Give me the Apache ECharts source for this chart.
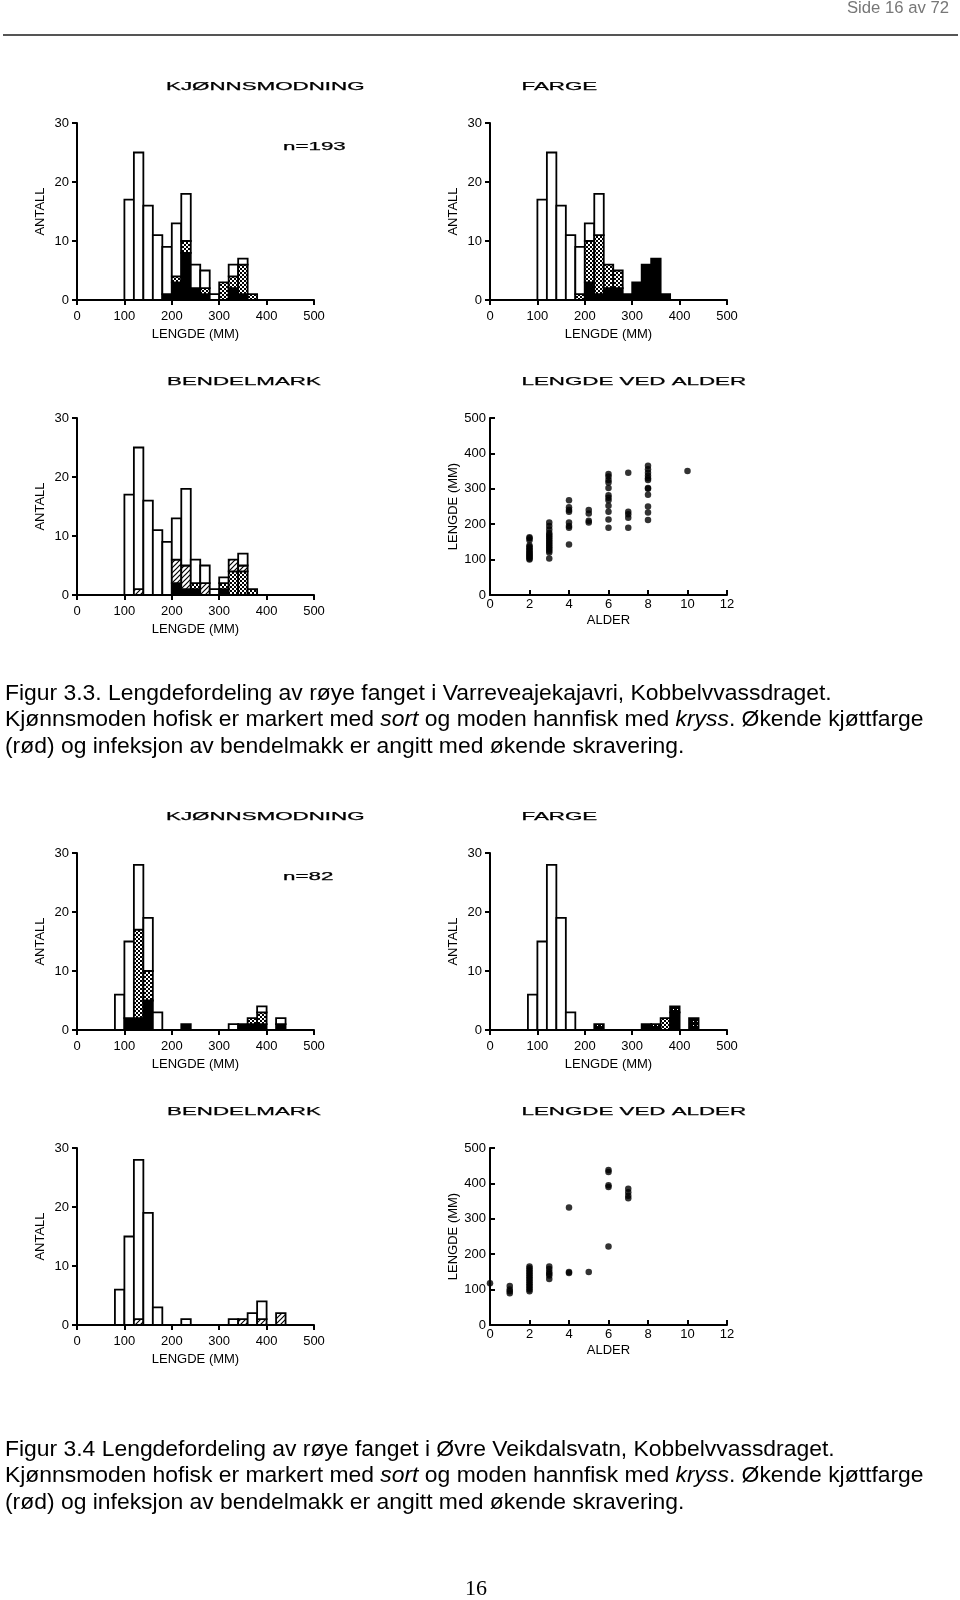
<!DOCTYPE html>
<html>
<head>
<meta charset="utf-8">
<script src="https://cdn.jsdelivr.net/npm/echarts@6/dist/echarts.min.js"></script>
<style>
html,body{margin:0;padding:0;background:#fff;}
#c{width:960px;height:1600px;}
</style>
</head>
<body>
<div id="c"></div>
<script>
// ---------- DATA ----------
// Figure 3.3 (Varreveajekajavri), 20 mm length bins, start values
const binsA = [100,120,140,160,180,200,220,240,260,280,300,320,340,360];
// KJØNNSMODNING: black = hofisk moden (sort), cross = moden hannfisk (kryss), white = umoden
const kjonnA_black = [0,0,0,0,1,3,8,2,1,0,0,2,1,0];
const kjonnA_cross = [0,0,0,0,0,1,2,0,1,0,3,2,5,1];
const kjonnA_white = [17,25,16,11,8,9,8,4,3,1,0,2,1,0];
// FARGE
const fargeA_black = [0,0,0,0,0,3,1,2,2,1,3,6,7,1];
const fargeA_cross = [0,0,0,0,1,7,10,4,3,0,0,0,0,0];
const fargeA_white = [17,25,16,11,8,3,7,0,0,0,0,0,0,0];
// BENDELMARK
const bendA_black = [0,0,0,0,0,2,1,1,0,0,1,0,0,0];
const bendA_cross = [0,0,0,0,0,0,0,1,0,0,1,4,4,1];
const bendA_hatch = [0,1,0,0,0,4,4,0,2,0,0,2,1,0];
const bendA_white = [17,24,16,11,9,7,13,4,3,1,1,0,2,0];
// LENGDE VED ALDER [alder, lengde mm]
const alderA = [
 [2,100],[2,103],[2,107],[2,110],[2,113],[2,117],[2,120],[2,124],[2,128],[2,132],[2,136],[2,140],[2,155],[2,160],[2,163],
 [3,103],[3,120],[3,125],[3,130],[3,135],[3,140],[3,145],[3,150],[3,155],[3,160],[3,165],[3,170],[3,175],[3,185],[3,195],[3,205],
 [4,143],[4,190],[4,195],[4,205],[4,235],[4,240],[4,248],[4,268],
 [5,205],[5,210],[5,230],[5,240],
 [6,190],[6,213],[6,235],[6,252],[6,268],[6,275],[6,282],[6,302],[6,318],[6,325],[6,335],[6,342],
 [7,190],[7,218],[7,228],[7,235],[7,345],
 [8,212],[8,233],[8,250],[8,283],[8,300],[8,302],[8,325],[8,330],[8,337],[8,345],[8,355],[8,365],
 [10,350]
];
// Figure 3.4 (Øvre Veikdalsvatn)
const binsB = [80,100,120,140,160,180,200,220,240,260,280,300,320,340,360,380,400,420];
const kjonnB_black = [0,2,2,5,0,0,0,1,0,0,0,0,0,1,1,1,0,1];
const kjonnB_cross = [0,0,15,5,0,0,0,0,0,0,0,0,0,0,1,2,0,0];
const kjonnB_white = [6,13,11,9,3,0,0,0,0,0,0,0,1,0,0,1,0,1];
const fargeB_black = [0,0,0,0,0,0,0,0,0,0,0,0,1,0,0,3,0,0];
const fargeB_dark  = [0,0,0,0,0,0,0,1,0,0,0,0,0,1,0,1,0,2];
const fargeB_cross = [0,0,0,0,0,0,0,0,0,0,0,0,0,0,2,0,0,0];
const fargeB_white = [6,15,28,19,3,0,0,0,0,0,0,0,0,0,0,0,0,0];
const bendB_hatch = [0,0,1,0,0,0,0,0,0,0,0,0,0,1,0,1,0,2];
const bendB_white = [6,15,27,19,3,0,0,1,0,0,0,0,1,0,2,3,0,0];
const alderB = [
 [0,118],
 [1,90],[1,95],[1,100],[1,110],
 [2,95],[2,100],[2,105],[2,110],[2,115],[2,120],[2,125],[2,130],[2,135],[2,140],[2,145],[2,150],[2,155],[2,160],[2,165],
 [3,130],[3,140],[3,145],[3,150],[3,158],[3,165],
 [4,147],[4,150],[4,332],
 [5,150],
 [6,222],[6,390],[6,395],[6,432],[6,438],
 [7,358],[7,365],[7,375],[7,385]
];

// ---------- PATTERNS ----------
function mk(w,h,draw){const c=document.createElement('canvas');c.width=w;c.height=h;const g=c.getContext('2d');draw(g);return {image:c,repeat:'repeat'};}
const FILL = {
  white:'#ffffff',
  black:'#000000',
  cross: mk(4,4,g=>{g.fillStyle='#fff';g.fillRect(0,0,4,4);g.fillStyle='#000';g.fillRect(0,0,2,2);g.fillRect(2,2,2,2);}),
  dark: mk(4,4,g=>{g.fillStyle='#000';g.fillRect(0,0,4,4);g.fillStyle='#fff';g.fillRect(1,1,1,1);}),
  hatch: mk(5,5,g=>{g.fillStyle='#fff';g.fillRect(0,0,5,5);g.strokeStyle='#000';g.lineWidth=1.2;g.beginPath();g.moveTo(-1,6);g.lineTo(6,-1);g.moveTo(-1,1);g.lineTo(1,-1);g.moveTo(4,6);g.lineTo(6,4);g.stroke();})
};
const PAT = ['black','cross','hatch','dark','white'];

function stackData(bins, layers){ // layers: [[name, arr], ...] bottom -> top
  const out=[];
  bins.forEach((b,i)=>{
    let base=0;
    layers.forEach(([name,arr])=>{
      const v=arr[i];
      if(v>0){out.push([b,b+20,base,base+v,PAT.indexOf(name)]);base+=v;}
    });
  });
  return out;
}
function renderBar(params, api){
  const a=api.coord([api.value(0),api.value(3)]);
  const b=api.coord([api.value(1),api.value(2)]);
  return {type:'rect',shape:{x:a[0],y:a[1],width:b[0]-a[0],height:b[1]-a[1]},
    style:{fill:FILL[PAT[api.value(4)]],stroke:'#000',lineWidth:1.8}};
}

// ---------- LAYOUT ----------
const FONT='"Liberation Sans", Arial, sans-serif';
const grids=[
 {left:77,top:123,width:237,height:177},
 {left:490,top:123,width:237,height:177},
 {left:77,top:418,width:237,height:177},
 {left:490,top:418,width:237,height:177},
 {left:77,top:853,width:237,height:177},
 {left:490,top:853,width:237,height:177},
 {left:77,top:1148,width:237,height:177},
 {left:490,top:1148,width:237,height:177}
];
const axLine={show:true,onZero:false,lineStyle:{color:'#000',width:2}};
const lbl=(m)=>({show:true,margin:m,color:'#000',fontSize:13,fontFamily:FONT,showMinLabel:true,showMaxLabel:true,hideOverlap:false});
const nm={color:'#000',fontSize:13,fontFamily:FONT};
const xAxes=[],yAxes=[],series=[];
function histo(gi,data){
  xAxes.push({type:'value',gridIndex:gi,min:0,max:500,interval:100,axisLine:axLine,
    axisTick:{show:true,inside:false,length:5,lineStyle:{color:'#000',width:2}},
    axisLabel:lbl(10),splitLine:{show:false},name:'LENGDE (MM)',nameLocation:'middle',nameGap:28,nameTextStyle:nm});
  yAxes.push({type:'value',gridIndex:gi,min:0,max:30,interval:10,axisLine:axLine,
    axisTick:{show:true,inside:false,length:5,lineStyle:{color:'#000',width:2}},
    axisLabel:lbl(8),splitLine:{show:false},name:'ANTALL',nameLocation:'middle',nameGap:30,nameRotate:90,nameTextStyle:nm});
  series.push({type:'custom',xAxisIndex:gi,yAxisIndex:gi,renderItem:renderBar,encode:{x:[0,1],y:[2,3]},data:data,silent:true,clip:false});
}
function scatter(gi,data){
  xAxes.push({type:'value',gridIndex:gi,min:0,max:12,interval:2,axisLine:axLine,
    axisTick:{show:true,inside:true,length:5,lineStyle:{color:'#000',width:2}},
    axisLabel:lbl(3),splitLine:{show:false},name:'ALDER',nameLocation:'middle',nameGap:19,nameTextStyle:nm});
  yAxes.push({type:'value',gridIndex:gi,min:0,max:500,interval:100,axisLine:axLine,
    axisTick:{show:true,inside:true,length:5,lineStyle:{color:'#000',width:2}},
    axisLabel:lbl(4),splitLine:{show:false},name:'LENGDE (MM)',nameLocation:'middle',nameGap:30,nameRotate:90,nameTextStyle:nm});
  series.push({type:'scatter',xAxisIndex:gi,yAxisIndex:gi,data:data,symbol:'circle',symbolSize:6.5,itemStyle:{color:'#000'},silent:true});
}
histo(0,stackData(binsA,[['black',kjonnA_black],['cross',kjonnA_cross],['white',kjonnA_white]]));
histo(1,stackData(binsA,[['black',fargeA_black],['cross',fargeA_cross],['white',fargeA_white]]));
histo(2,stackData(binsA,[['black',bendA_black],['cross',bendA_cross],['hatch',bendA_hatch],['white',bendA_white]]));
scatter(3,alderA);
histo(4,stackData(binsB,[['black',kjonnB_black],['cross',kjonnB_cross],['white',kjonnB_white]]));
histo(5,stackData(binsB,[['black',fargeB_black],['dark',fargeB_dark],['cross',fargeB_cross],['white',fargeB_white]]));
histo(6,stackData(binsB,[['hatch',bendB_hatch],['white',bendB_white]]));
scatter(7,alderB);

// ---------- TEXT ----------
function wide(text,x,y){
  return {type:'text',x:x,y:y,scaleX:2.03,originX:0,originY:0,silent:true,
    style:{text:text,font:'11px '+FONT,fill:'#000',stroke:'#000',lineWidth:0.25,align:'left',verticalAlign:'middle',textAlign:'left',textVerticalAlign:'middle'}};
}
function txt(text,x,y,font,fill,align,rich){
  const s={text:text,font:font,fill:fill||'#000',align:align||'left',verticalAlign:'middle',textAlign:align||'left',textVerticalAlign:'middle'};
  if(rich) s.rich=rich;
  return {type:'text',x:x,y:y,silent:true,style:s};
}
const CAP='22.9px '+FONT;
const richI={i:{fontStyle:'italic',fontSize:22.9,fontFamily:FONT,fill:'#000'}};
const capLine2='Kjønnsmoden hofisk er markert med {i|sort} og moden hannfisk med {i|kryss}. Økende kjøttfarge';
const capLine3='(rød) og infeksjon av bendelmakk er angitt med økende skravering.';
const graphics=[
  txt('Side 16 av 72',949,8,'16.7px '+FONT,'#777','right'),
  {type:'line',silent:true,shape:{x1:3,y1:35,x2:958,y2:35},style:{stroke:'#555',lineWidth:2}},
  wide('KJØNNSMODNING',166,86.5), wide('FARGE',521.5,86.5), wide('n=193',283,146.5),
  wide('BENDELMARK',167,381.5), wide('LENGDE VED ALDER',521.5,381.5),
  wide('KJØNNSMODNING',166,816.5), wide('FARGE',521.5,816.5), wide('n=82',283,876.5),
  wide('BENDELMARK',167,1111.5), wide('LENGDE VED ALDER',521.5,1111.5),
  txt('Figur 3.3. Lengdefordeling av røye fanget i Varreveajekajavri, Kobbelvvassdraget.',5,694,CAP),
  txt(capLine2,5,720,CAP,'#000','left',richI),
  txt(capLine3,5,747,CAP),
  txt('Figur 3.4 Lengdefordeling av røye fanget i Øvre Veikdalsvatn, Kobbelvvassdraget.',5,1450,CAP),
  txt(capLine2,5,1476,CAP,'#000','left',richI),
  txt(capLine3,5,1503,CAP),
  txt('16',476,1589,'22px "Liberation Serif", serif','#000','center')
];

const chart=echarts.init(document.getElementById('c'),null,{renderer:'canvas'});
chart.setOption({
  animation:false,
  backgroundColor:'#fff',
  grid:grids,
  xAxis:xAxes,
  yAxis:yAxes,
  series:series,
  graphic:{elements:graphics}
});
</script>
</body>
</html>
